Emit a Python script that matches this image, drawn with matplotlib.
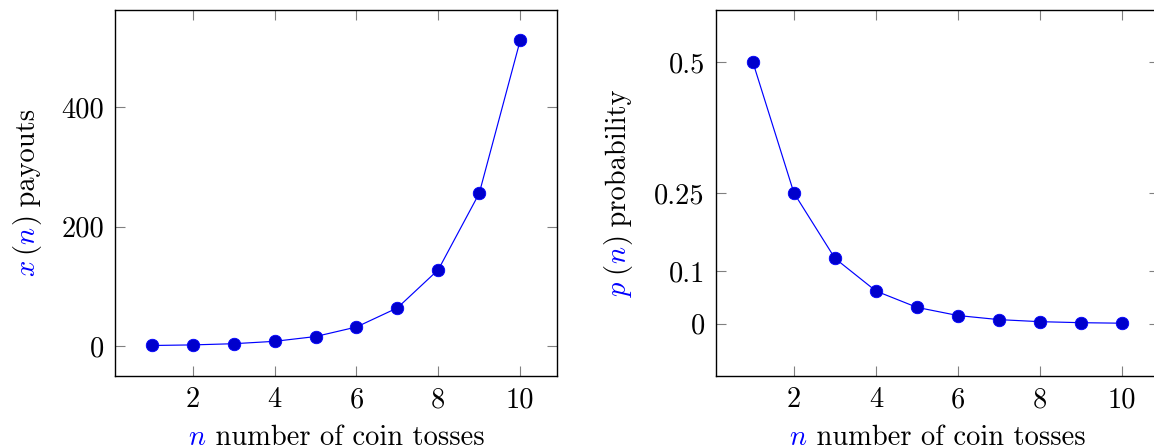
import numpy as np
import matplotlib
matplotlib.use('Agg')
import matplotlib.pyplot as plt

plt.rcParams['font.family'] = ['cmr10', 'DejaVu Serif']
plt.rcParams['mathtext.fontset'] = 'cm'
plt.rcParams['axes.formatter.use_mathtext'] = True
plt.rcParams['font.size'] = 20.5

# data
n_tosses = [1, 2, 3, 4, 5, 6, 7, 8, 9, 10]
payouts = [1, 2, 4, 8, 16, 32, 64, 128, 256, 512]
probs = [0.5, 0.25, 0.125, 0.0625, 0.03125, 0.015625, 0.0078125,
         0.00390625, 0.001953125, 0.0009765625]

x_ticks = [2, 4, 6, 8, 10]
left_yticks = [0, 200, 400]
right_yticks = [0, 0.1, 0.25, 0.5]
right_ytick_labels = ['0', '0.1', '0.25', '0.5']

BLUE = '#0000ff'
MARK = '#0000cc'


def style_axes(ax):
    for sp in ax.spines.values():
        sp.set_linewidth(1.0)
    ax.tick_params(direction='in', length=7, width=0.8, color='0.5',
                   top=True, right=True, pad=8, labelsize=20.5)
    ax.set_xlim(0.1, 10.9)
    ax.set_xticks(x_ticks)
    ax.set_xticklabels([str(t) for t in x_ticks])


def plot_series(ax, x, y):
    ax.plot(x, y, color=BLUE, linewidth=0.85, marker='o', markersize=9,
            markerfacecolor=MARK, markeredgecolor=BLUE, markeredgewidth=0.6)


def colored_label(ax, pieces, vertical, offset):
    # pieces is a list of (text, colour), chained one after the other
    texts = []
    prev = None
    for s, c in pieces:
        if vertical:
            kw = dict(rotation=90, rotation_mode='anchor', ha='left', va='baseline')
            if prev is None:
                t = ax.annotate(s, xy=(0, 0.5), xycoords='axes fraction',
                                xytext=(offset, 0), textcoords='offset pixels',
                                color=c, annotation_clip=False, **kw)
            else:
                t = ax.annotate(s, xy=(0, 1), xycoords=('axes fraction', prev),
                                xytext=(offset, 0), textcoords='offset pixels',
                                color=c, annotation_clip=False, **kw)
        else:
            kw = dict(ha='left', va='baseline')
            if prev is None:
                t = ax.annotate(s, xy=(0.5, 0), xycoords='axes fraction',
                                xytext=(0, offset), textcoords='offset pixels',
                                color=c, annotation_clip=False, **kw)
            else:
                t = ax.annotate(s, xy=(1, 0), xycoords=(prev, 'axes fraction'),
                                xytext=(0, offset), textcoords='offset pixels',
                                color=c, annotation_clip=False, **kw)
        texts.append(t)
        prev = t
    return texts


def center_label(texts, vertical, offset):
    r = fig.canvas.get_renderer()
    first = texts[0].get_window_extent(r)
    last = texts[-1].get_window_extent(r)
    if vertical:
        total = last.y1 - first.y0
        texts[0].xyann = (offset, -total / 2)
    else:
        total = last.x1 - first.x0
        texts[0].xyann = (-total / 2, offset)


fig = plt.figure(figsize=(11.54, 4.48), dpi=100)
ax1 = fig.add_axes([115 / 1154, 72 / 448, 442 / 1154, 366 / 448])
ax2 = fig.add_axes([716 / 1154, 72 / 448, 443 / 1154, 366 / 448])

# left: payouts
style_axes(ax1)
plot_series(ax1, n_tosses, payouts)
ax1.set_ylim(-50.1, 563.1)
ax1.set_yticks(left_yticks)
ax1.set_yticklabels([str(t) for t in left_yticks])

# right: probability
style_axes(ax2)
plot_series(ax2, n_tosses, probs)
ax2.set_ylim(-0.1, 0.6)
ax2.set_yticks(right_yticks)
ax2.set_yticklabels(right_ytick_labels)

xlab_pieces = [('$n$', BLUE), (' number of coin tosses', 'black')]
labels = [
    (colored_label(ax1, xlab_pieces, False, -69), False, -69),
    (colored_label(ax2, xlab_pieces, False, -69), False, -69),
    (colored_label(ax1, [('$x$', BLUE), (r'$\,($', 'black'), ('$n$', BLUE),
                         ('$)$', 'black'), (' payouts', 'black')], True, -80), True, -80),
    (colored_label(ax2, [('$p$', BLUE), (r'$\,($', 'black'), ('$n$', BLUE),
                         ('$)$', 'black'), (' probability', 'black')], True, -90), True, -90),
]

fig.canvas.draw()
for texts, vert, off in labels:
    center_label(texts, vert, off)

fig.savefig('out.png', dpi=100)
